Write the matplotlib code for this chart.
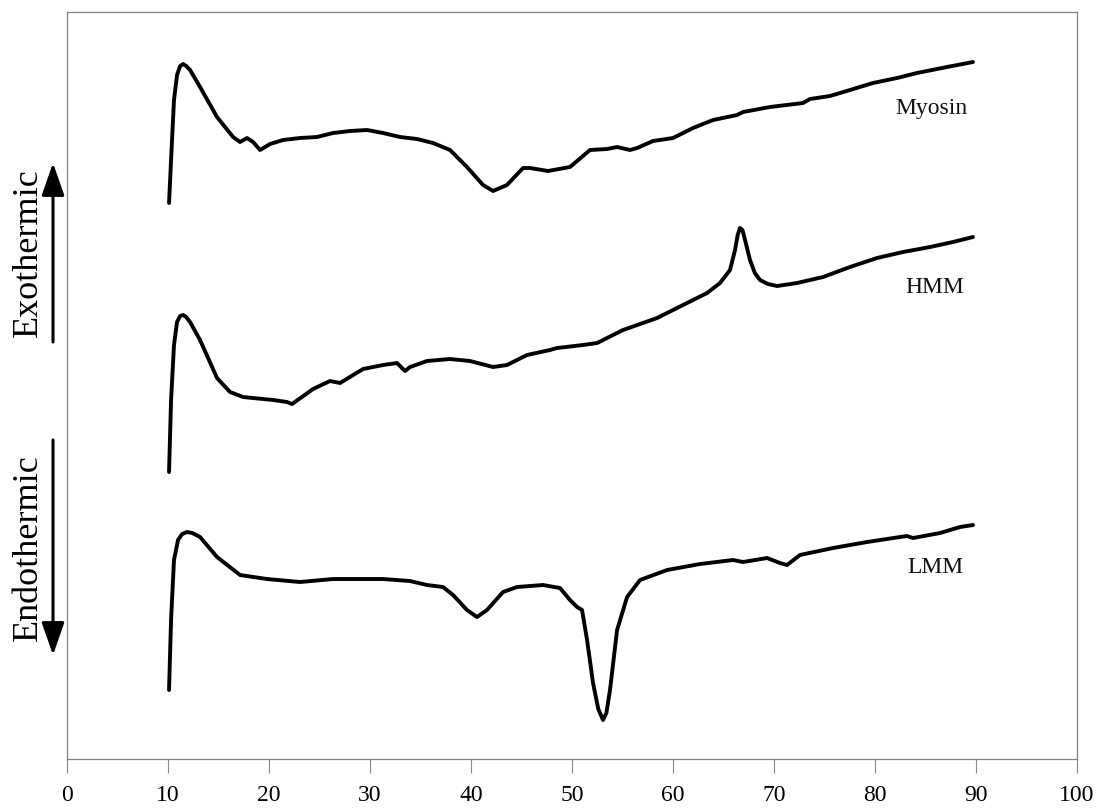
import matplotlib
matplotlib.use("Agg")
import matplotlib.pyplot as plt
from matplotlib.patches import FancyArrowPatch

# Temperature (°C) and heat-flow signal (arbitrary units) for each sample
myosin_t = [10.10, 10.30, 10.59, 10.89, 11.20, 11.49, 11.80, 12.18, 13.17, 14.85, 16.44, 17.13,
            17.82, 18.42, 19.11, 20.10, 21.39, 23.07, 24.75, 26.34, 28.02, 29.70,
            31.29, 32.97, 34.65, 36.24, 37.92, 39.60, 41.19, 42.18, 43.56, 45.15,
            45.84, 47.62, 49.80, 51.78, 53.47, 54.46, 55.74, 56.44, 58.02, 60.00,
            61.98, 63.96, 66.34, 66.93, 69.60, 72.87, 73.56, 75.54, 77.52, 79.80,
            82.18, 84.16, 87.13, 89.70]
myosin_y = [55.6, 59.9, 65.9, 68.4, 69.3, 69.5, 69.3, 68.9, 67.2, 64.2, 62.2, 61.7,
            62.1, 61.7, 60.9, 61.5, 61.9, 62.1, 62.2, 62.6, 62.8, 62.9,
            62.6, 62.2, 62.0, 61.6, 60.9, 59.2, 57.4, 56.8, 57.4, 59.1,
            59.1, 58.8, 59.2, 60.9, 61.0, 61.2, 60.9, 61.1, 61.8, 62.1,
            63.1, 63.9, 64.4, 64.7, 65.2, 65.6, 66.0, 66.3, 66.9, 67.6,
            68.1, 68.6, 69.2, 69.7]

hmm_t = [10.10, 10.30, 10.59, 10.89, 11.20, 11.49, 11.80, 12.18, 13.17, 14.85, 16.14, 17.43,
         20.40, 21.78, 22.28, 24.36, 26.04, 27.03, 29.31, 31.29, 32.67, 33.47,
         33.96, 35.64, 37.92, 39.90, 42.18, 43.56, 45.54, 47.82, 48.51, 51.09,
         52.48, 55.05, 58.42, 60.99, 63.37, 64.65, 65.64, 66.14, 66.40, 66.63,
         66.88, 67.13, 67.62, 68.10, 68.61, 69.40, 70.30, 72.28, 74.85, 77.52, 80.20, 82.77,
         85.45, 87.72, 89.70]
hmm_y = [28.7, 35.9, 41.4, 43.7, 44.3, 44.4, 44.2, 43.7, 41.9, 38.1, 36.7, 36.2,
         35.9, 35.7, 35.5, 37.0, 37.8, 37.6, 39.0, 39.4, 39.6, 38.8,
         39.2, 39.8, 40.0, 39.8, 39.2, 39.4, 40.4, 40.9, 41.1, 41.4,
         41.6, 42.9, 44.1, 45.4, 46.6, 47.6, 48.9, 50.9, 52.4, 53.1,
         52.9, 51.9, 49.9, 48.6, 47.9, 47.5, 47.3, 47.6, 48.2, 49.2, 50.1, 50.7,
         51.2, 51.7, 52.2]

lmm_t = [10.10, 10.30, 10.59, 10.99, 11.40, 11.88, 12.40, 13.17, 14.85, 17.13, 19.80, 23.07,
         26.34, 31.29, 33.96, 35.64, 37.23, 38.22, 39.60, 40.59, 41.58, 43.17,
         44.55, 47.13, 48.81, 49.80, 50.50, 50.99, 51.49, 52.08, 52.60, 53.07, 53.40, 53.76,
         54.46, 55.45, 56.73, 59.41, 62.67, 65.94, 66.93, 69.31, 70.59, 71.29,
         72.57, 75.84, 79.21, 82.48, 83.17, 83.76, 86.44, 88.42, 89.70]
lmm_y = [6.9, 13.9, 19.9, 21.9, 22.5, 22.7, 22.6, 22.2, 20.2, 18.4, 18.0, 17.7,
         18.0, 18.0, 17.8, 17.4, 17.2, 16.4, 14.9, 14.2, 14.9, 16.7,
         17.2, 17.4, 17.1, 15.9, 15.2, 14.9, 11.9, 7.6, 5.0, 3.9, 4.6, 6.9,
         12.9, 16.2, 17.9, 18.9, 19.5, 19.9, 19.7, 20.1, 19.6, 19.4,
         20.4, 21.1, 21.7, 22.2, 22.3, 22.1, 22.6, 23.2, 23.4]

series = [("Myosin", myosin_t, myosin_y, (82.0, 65.1)),
          ("HMM", hmm_t, hmm_y, (83.0, 47.2)),
          ("LMM", lmm_t, lmm_y, (83.2, 19.2))]

x_ticks = list(range(0, 101, 10))

plt.rcParams["font.family"] = ["Liberation Serif", "DejaVu Serif"]

fig = plt.figure(figsize=(10.97, 8.11), dpi=100)
ax = fig.add_axes([0.0611, 0.0641, 0.9207, 0.9211])

for name, t, y, (lx, ly) in series:
    ax.plot(t, y, color="black", lw=2.8, solid_joinstyle="round",
            solid_capstyle="round")
    ax.text(lx, ly, name, fontsize=17, va="center", ha="left", color="#111111")

ax.set_xlim(0, 100)
ax.set_ylim(0, 74.7)
ax.set_xticks(x_ticks)
ax.set_xticklabels([str(v) for v in x_ticks], fontsize=17)
ax.set_yticks([])
ax.tick_params(axis="x", direction="out", length=10, width=0.8,
               color="#8a8a8a", pad=9)
for sp in ax.spines.values():
    sp.set_color("#808080")
    sp.set_linewidth(0.9)

# Heat-flow direction indicators on the left margin
fig.text(28 / 1097, 1 - 253 / 811, "Exothermic", rotation=90, fontsize=26,
         ha="center", va="center")
fig.text(28 / 1097, 1 - 548 / 811, "Endothermic", rotation=90, fontsize=26,
         ha="center", va="center")
arrow_kw = dict(arrowstyle="-|>,head_length=1.0,head_width=0.35", lw=2.2,
                mutation_scale=20, color="black", shrinkA=0, shrinkB=0,
                transform=fig.transFigure)
fig.add_artist(FancyArrowPatch((53 / 1097, 1 - 342 / 811),
                               (53 / 1097, 1 - 163 / 811), **arrow_kw))
fig.add_artist(FancyArrowPatch((53 / 1097, 1 - 440 / 811),
                               (53 / 1097, 1 - 655 / 811), **arrow_kw))

fig.savefig("out.png", dpi=100)
